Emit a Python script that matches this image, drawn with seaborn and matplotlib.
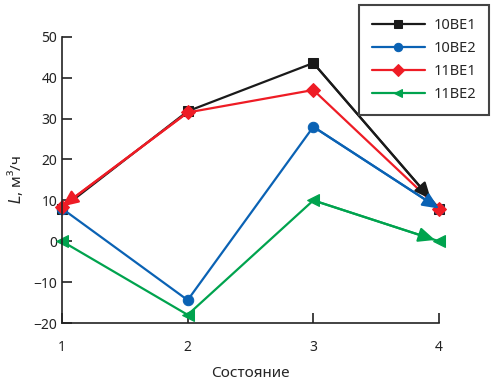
import seaborn as sns
import matplotlib.pyplot as plt

states = [1, 2, 3, 4]
be10_1 = [8, 31.8, 43.6, 8]
be10_2 = [8, -14.4, 28, 8]
be11_1 = [8.5, 31.5, 37, 8]
be11_2 = [0, -18, 10, 0]
names = ["10BE1", "10BE2", "11BE1", "11BE2"]

sns.set_style("ticks")
plt.rcParams['font.family'] = ['Noto Sans', 'DejaVu Sans']

fig = plt.figure(figsize=(5, 3.92), dpi=100)
ax = fig.add_axes([0.124, 0.176, 0.754, 0.730])

series = [be10_1, be10_2, be11_1, be11_2]
colors = ["#1a1a1a", "#0a62b4", "#ee1c25", "#00a34e"]
markers = ["s", "o", "D", "<"]
msizes = [7, 7.5, 7, 8.5]
# arrow on one segment of each line: (from, to, shrink at tip in pt)
arrows = [(2, 3, 9), (2, 3, 0), (1, 0, 0), (2, 3, 3)]

for vals, name, c, m, ms, (a, b, sh) in zip(series, names, colors, markers, msizes, arrows):
    sns.lineplot(x=states, y=vals, ax=ax, color=c, marker=m, markersize=ms,
                 markeredgecolor=c, linewidth=1.6, label=name, clip_on=False)
    ax.annotate("", xy=(states[b], vals[b]), xytext=(states[a], vals[a]),
                arrowprops=dict(arrowstyle="-|>,head_length=0.9,head_width=0.4",
                                color=c, lw=1.6, shrinkA=0, shrinkB=sh,
                                mutation_scale=11), annotation_clip=False)

ax.set_xlim(1, 4)
ax.set_ylim(-20, 50)
ax.set_xticks(states)
ax.set_yticks(range(-20, 51, 10))
ax.tick_params(direction="in", length=7, width=1.2, labelsize=10, colors="#222222")
ax.tick_params(axis="x", pad=12)
for s in ["left", "bottom"]:
    ax.spines[s].set_linewidth(1.2)
    ax.spines[s].set_color("#222222")
sns.despine(ax=ax)

ax.set_xlabel("Состояние", fontsize=11, labelpad=8)
ax.set_ylabel("$\\it{L}$, м³/ч", fontsize=11, labelpad=6)

leg = ax.legend(loc="upper right", bbox_to_anchor=(0.978, 0.987),
                bbox_transform=fig.transFigure, fontsize=10.5, frameon=True,
                fancybox=False, framealpha=1, handlelength=3.6, handletextpad=0.6,
                borderpad=0.9, labelspacing=0.55, borderaxespad=0)
leg.get_frame().set_edgecolor("#444444")
leg.get_frame().set_linewidth(1.5)
for h in leg.legend_handles:
    h.set_markersize(6)

fig.savefig("out.png", dpi=100)
